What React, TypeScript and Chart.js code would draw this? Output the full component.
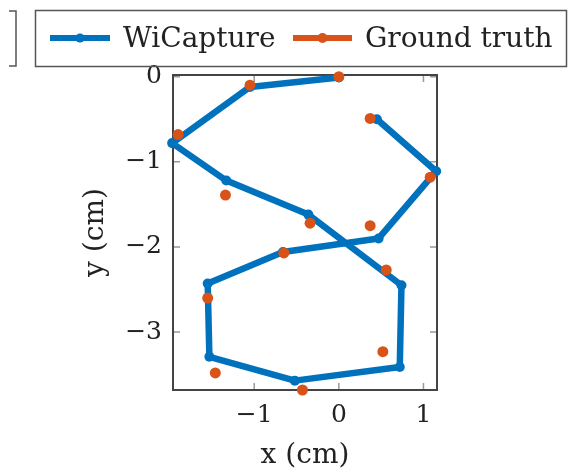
import React, { useEffect, useRef } from "react";
import { Chart, registerables } from "chart.js";
Chart.register(...registerables);

const seriesNames = ["WiCapture", "Ground truth"];
const wiX = [0, -1.05, -1.97, -1.33, -0.36, 0.74, 0.72, -0.52, -1.53, -1.55, -0.66, 0.47, 1.15, 0.45];
const wiY = [-0.01, -0.12, -0.78, -1.22, -1.62, -2.45, -3.41, -3.57, -3.29, -2.43, -2.06, -1.9, -1.11, -0.5];
const gtX = [0, -1.05, -1.9, -1.34, -0.34, 0.56, 0.52, -0.43, -1.46, -1.55, -0.65, 0.37, 1.08, 0.37];
const gtY = [0, -0.1, -0.68, -1.39, -1.72, -2.27, -3.23, -3.68, -3.48, -2.6, -2.07, -1.75, -1.18, -0.49];
const xTicks = [-1, 0, 1];
const yTicks = [0, -1, -2, -3];

const BLUE = "#0072BD";
const ORANGE = "#D95319";
const FONT = '"DejaVu Serif", "Liberation Serif", serif';

const fmt = (v: number) => (v < 0 ? "\u2212" + Math.abs(v) : String(v));

const framePlugin = {
  id: "frame",
  beforeDatasetsDraw(chart: any) {
    const { ctx, chartArea: a, scales } = chart;
    ctx.save();
    ctx.strokeStyle = "#999";
    ctx.lineWidth = 1.5;
    const tl = 7;
    ctx.beginPath();
    xTicks.forEach((v) => {
      const px = scales.x.getPixelForValue(v);
      ctx.moveTo(px, a.bottom);
      ctx.lineTo(px, a.bottom - tl);
      ctx.moveTo(px, a.top);
      ctx.lineTo(px, a.top + tl);
    });
    yTicks.forEach((v) => {
      const py = scales.y.getPixelForValue(v);
      ctx.moveTo(a.left, py);
      ctx.lineTo(a.left + tl, py);
      ctx.moveTo(a.right, py);
      ctx.lineTo(a.right - tl, py);
    });
    ctx.stroke();
    ctx.strokeStyle = "#444";
    ctx.lineWidth = 2;
    ctx.strokeRect(a.left, a.top, a.right - a.left, a.bottom - a.top);
    ctx.restore();
  },
  afterDraw(chart: any) {
    const { ctx } = chart;
    ctx.save();
    ctx.strokeStyle = "#555";
    ctx.lineWidth = 1.5;
    ctx.strokeRect(35.5, 10.5, 531, 56);
    ctx.beginPath();
    ctx.moveTo(9, 11);
    ctx.lineTo(16, 11);
    ctx.lineTo(16, 66);
    ctx.lineTo(9, 66);
    ctx.stroke();
    const cy = 38;
    const entries = [
      { x0: 50, x1: 110, tx: 123, color: BLUE, r: 4.5 },
      { x0: 293, x1: 352, tx: 365, color: ORANGE, r: 5 },
    ];
    entries.forEach((e, i) => {
      ctx.strokeStyle = e.color;
      ctx.lineWidth = 6;
      ctx.beginPath();
      ctx.moveTo(e.x0, cy);
      ctx.lineTo(e.x1, cy);
      ctx.stroke();
      ctx.fillStyle = e.color;
      ctx.beginPath();
      ctx.arc((e.x0 + e.x1) / 2, cy, e.r, 0, Math.PI * 2);
      ctx.fill();
      ctx.fillStyle = "#222";
      ctx.font = `28px ${FONT}`;
      ctx.textBaseline = "alphabetic";
      ctx.textAlign = "left";
      ctx.fillText(seriesNames[i], e.tx, 47);
    });
    ctx.restore();
  },
};

export default function App() {
  const ref = useRef<HTMLCanvasElement>(null);
  useEffect(() => {
    const chart = new Chart(ref.current!, {
      type: "scatter",
      data: {
        datasets: [
          {
            label: seriesNames[0],
            data: wiX.map((x, i) => ({ x, y: wiY[i] })),
            showLine: true,
            borderColor: BLUE,
            backgroundColor: BLUE,
            borderWidth: 6.5,
            borderJoinStyle: "round",
            pointRadius: 5,
            pointBorderWidth: 0,
            pointBackgroundColor: BLUE,
            clip: false,
            order: 1,
          },
          {
            label: seriesNames[1],
            data: gtX.map((x, i) => ({ x, y: gtY[i] })),
            showLine: false,
            borderColor: ORANGE,
            backgroundColor: ORANGE,
            pointRadius: 5.5,
            pointBorderWidth: 0,
            pointBackgroundColor: ORANGE,
            clip: false,
            order: 0,
          },
        ] as any,
      },
      options: {
        animation: false,
        responsive: false,
        maintainAspectRatio: false,
        layout: { padding: { left: 0, top: 75, right: 132, bottom: 0 } },
        plugins: { legend: { display: false }, tooltip: { enabled: false } },
        scales: {
          x: {
            type: "linear",
            min: -1.96,
            max: 1.16,
            afterBuildTicks: (s: any) => {
              s.ticks = xTicks.map((v) => ({ value: v }));
            },
            afterFit: (s: any) => {
              s.height = 85;
            },
            grid: { display: false },
            border: { display: false },
            ticks: {
              callback: (v: any) => fmt(Number(v)),
              font: { family: FONT, size: 25 },
              color: "#222",
              padding: 2,
              maxRotation: 0,
            },
            title: {
              display: true,
              text: "x (cm)",
              font: { family: FONT, size: 28 },
              color: "#222",
              padding: { top: 0, bottom: 2 },
            },
          },
          y: {
            type: "linear",
            min: -3.68,
            max: 0.02,
            afterBuildTicks: (s: any) => {
              s.ticks = yTicks.map((v) => ({ value: v }));
            },
            afterFit: (s: any) => {
              s.width = 173;
            },
            grid: { display: false },
            border: { display: false },
            ticks: {
              callback: (v: any) => fmt(Number(v)),
              font: { family: FONT, size: 25 },
              color: "#222",
              padding: 3,
            },
            title: {
              display: true,
              text: "y (cm)",
              font: { family: FONT, size: 28 },
              color: "#222",
              padding: { top: 79, bottom: 0 },
            },
          },
        },
      },
      plugins: [framePlugin],
    });
    return () => chart.destroy();
  }, []);
  return (
    <div style={{ position: "fixed", left: 0, top: 0, width: 569, height: 475, background: "#fff" }}>
      <canvas ref={ref} width={569} height={475} style={{ width: 569, height: 475 }} />
    </div>
  );
}
